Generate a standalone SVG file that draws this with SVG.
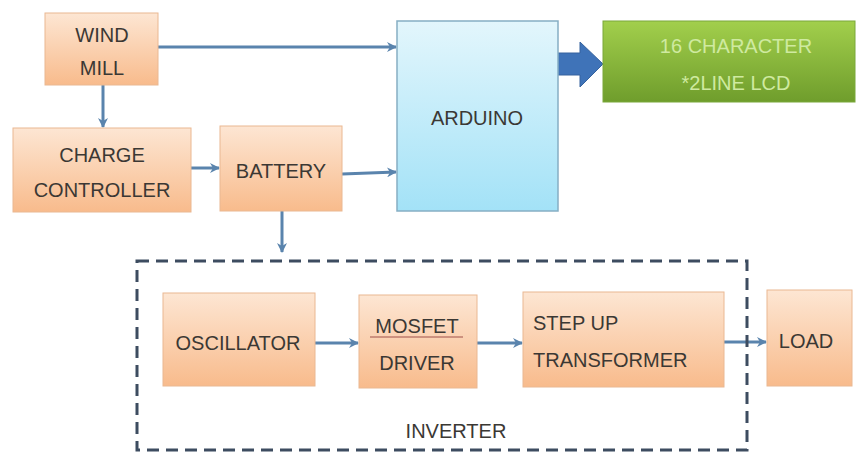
<svg xmlns="http://www.w3.org/2000/svg" width="857" height="454" viewBox="0 0 857 454">
<defs>
<linearGradient id="gOr" x1="0" y1="0" x2="0" y2="1">
<stop offset="0" stop-color="#fde6d3"/>
<stop offset="1" stop-color="#f8bb8c"/>
</linearGradient>
<linearGradient id="gBl" x1="0" y1="0" x2="0" y2="1">
<stop offset="0" stop-color="#e3f6fc"/>
<stop offset="1" stop-color="#a3e2f7"/>
</linearGradient>
<linearGradient id="gGr" x1="0" y1="0" x2="0" y2="1">
<stop offset="0" stop-color="#a2cf4c"/>
<stop offset="1" stop-color="#6f9d2c"/>
</linearGradient>
<marker id="ah" viewBox="0 0 10 10" refX="9" refY="5" markerWidth="10" markerHeight="10" markerUnits="userSpaceOnUse" orient="auto">
<path d="M0,0 L10,5 L0,10 L3,5 Z" fill="#5a84ad"/>
</marker>
</defs>
<style>
.or{fill:url(#gOr);stroke:#eab892;stroke-width:1}
.t{font-family:"Liberation Sans",Arial,sans-serif;font-size:20px;fill:#3b3834;text-anchor:middle}
.c{fill:none;stroke:#5a84ad;stroke-width:3;marker-end:url(#ah)}
</style>
<rect width="857" height="454" fill="#ffffff"/>

<g id="connectors">
<path class="c" d="M158,47 L396,47"/>
<path class="c" d="M103,85 L103,127"/>
<path class="c" d="M191,168 L219,168"/>
<path class="c" d="M342,174 L396,172"/>
<path class="c" d="M282,211 L282,252"/>
<path class="c" d="M315,343 L358,343"/>
<path class="c" d="M477,343 L522,343"/>
<path class="c" d="M724,342 L766,342"/>
<path d="M555,53 L580,53 L580,42 L603,64 L580,87 L580,75 L555,75 Z" fill="#3f73b8" stroke="#36639e" stroke-width="1"/>
</g>

<g id="inverter">
<rect x="137" y="261" width="610" height="189" fill="none" stroke="#3d4c60" stroke-width="3" stroke-dasharray="12,7"/>
<text class="t" x="456" y="438">INVERTER</text>
</g>

<g id="windmill">
<rect class="or" x="45" y="13" width="113" height="72"/>
<text class="t" x="102" y="42">WIND</text>
<text class="t" x="102" y="75">MILL</text>
</g>

<g id="charge-controller">
<rect class="or" x="13" y="128" width="178" height="84"/>
<text class="t" x="102" y="162">CHARGE</text>
<text class="t" x="102" y="197">CONTROLLER</text>
</g>

<g id="battery">
<rect class="or" x="220" y="126" width="122" height="85"/>
<text class="t" x="281" y="178">BATTERY</text>
</g>

<g id="arduino">
<rect x="397" y="21" width="161" height="190" fill="url(#gBl)" stroke="#86aec4" stroke-width="1.5"/>
<text class="t" x="477" y="125">ARDUINO</text>
</g>

<g id="lcd">
<rect x="603" y="21" width="252" height="81" fill="url(#gGr)" stroke="#7aa83a" stroke-width="1"/>
<text class="t" x="736" y="53" style="fill:#cfeaa0">16 CHARACTER</text>
<text class="t" x="736" y="90" style="fill:#cfeaa0">*2LINE LCD</text>
</g>

<g id="oscillator">
<rect class="or" x="163" y="293" width="152" height="93"/>
<text class="t" x="238" y="350">OSCILLATOR</text>
</g>

<g id="mosfet-driver">
<rect class="or" x="359" y="295" width="118" height="93"/>
<text class="t" x="417" y="333">MOSFET</text>
<line x1="370" y1="337" x2="463" y2="337" stroke="#a0504a" stroke-width="1"/>
<text class="t" x="417" y="370">DRIVER</text>
</g>

<g id="step-up-transformer">
<rect class="or" x="523" y="292" width="201" height="95"/>
<text class="t" x="533" y="330" style="text-anchor:start">STEP UP</text>
<text class="t" x="533" y="367" style="text-anchor:start">TRANSFORMER</text>
</g>

<g id="load">
<rect class="or" x="767" y="290" width="85" height="96"/>
<text class="t" x="806" y="348">LOAD</text>
</g>
</svg>
